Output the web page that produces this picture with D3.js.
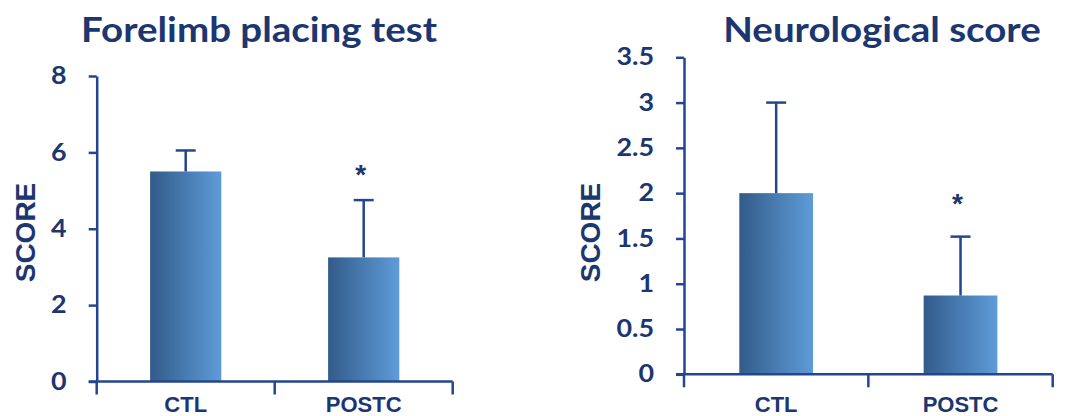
<!DOCTYPE html>
<html>
<head>
<meta charset="utf-8">
<script src="https://cdn.jsdelivr.net/npm/d3@7"></script>
<style>
  html, body { margin: 0; padding: 0; background: #ffffff; }
  svg { display: block; }
</style>
</head>
<body>
<svg id="chart" width="1073" height="416"></svg>
<script>
// Group labels shared by both panels
const categories = ["CTL", "POSTC"];
const significant = [false, true];

// Forelimb placing test: mean score and error (upper bar only)
const forelimbMeans = [5.5, 3.25];
const forelimbErrors = [0.55, 1.5];
const forelimbTicks = [0, 2, 4, 6, 8];

// Neurological score: mean score and error
const neuroMeans = [2.0, 0.87];
const neuroErrors = [1.0, 0.65];
const neuroTicks = [0, 0.5, 1, 1.5, 2, 2.5, 3, 3.5];

const svg = d3.select("#chart");
const textColor = "#1c3670";
const axisColor = "#24458f";
const wideX = 1.12;   // horizontal stretch for the wide display lettering

// Horizontal gradient used to fill the bars
const defs = svg.append("defs");
const grad = defs.append("linearGradient")
  .attr("id", "barFill")
  .attr("x1", "0%").attr("x2", "100%").attr("y1", "0%").attr("y2", "0%");
grad.append("stop").attr("offset", "0%").attr("stop-color", "#325b8a");
grad.append("stop").attr("offset", "100%").attr("stop-color", "#5e9cd8");

function drawPanel(cfg) {
  const g = svg.append("g");
  const x = d3.scaleBand().domain(categories).range([cfg.left, cfg.right]).padding(0);
  const y = d3.scaleLinear().domain([0, cfg.max]).range([cfg.bottom, cfg.top]);
  const barW = x.bandwidth() * 0.4;

  const rows = categories.map((c, i) => ({
    cat: c, mean: cfg.means[i], err: cfg.errors[i], sig: significant[i]
  }));

  // Title
  g.append("text")
    .attr("transform", `translate(${cfg.titleX},41.5) scale(1.1,1)`)
    .attr("text-anchor", "middle")
    .attr("font-family", "Lato, 'Open Sans', sans-serif")
    .attr("font-weight", 700)
    .attr("font-size", 35)
    .attr("fill", textColor)
    .text(cfg.title);

  // Bars
  g.selectAll("rect.bar").data(rows).join("rect")
    .attr("class", "bar")
    .attr("x", d => x(d.cat) + (x.bandwidth() - barW) / 2)
    .attr("width", barW)
    .attr("y", d => y(d.mean))
    .attr("height", d => y(0) - y(d.mean))
    .attr("fill", "url(#barFill)");

  // Error bars (upper whisker with cap)
  const cx = d => x(d.cat) + x.bandwidth() / 2;
  g.selectAll("line.err").data(rows).join("line")
    .attr("class", "err")
    .attr("x1", cx).attr("x2", cx)
    .attr("y1", d => y(d.mean)).attr("y2", d => y(d.mean + d.err))
    .attr("stroke", axisColor).attr("stroke-width", 2.5);
  g.selectAll("line.cap").data(rows).join("line")
    .attr("class", "cap")
    .attr("x1", d => cx(d) - 10).attr("x2", d => cx(d) + 10)
    .attr("y1", d => y(d.mean + d.err)).attr("y2", d => y(d.mean + d.err))
    .attr("stroke", axisColor).attr("stroke-width", 2.5);

  // Significance markers
  g.selectAll("text.sig").data(rows.filter(d => d.sig)).join("text")
    .attr("class", "sig")
    .attr("x", d => cx(d) - 3)
    .attr("y", d => y(d.mean + d.err) - cfg.sigGap)
    .attr("text-anchor", "middle")
    .attr("font-family", "'Liberation Sans', Arial, sans-serif")
    .attr("font-weight", 700)
    .attr("font-size", 28)
    .attr("fill", textColor)
    .text("*");

  // Y axis
  const tickSize = 8, tickPad = 22;
  const yAxis = g.append("g")
    .attr("transform", `translate(${cfg.left},0)`)
    .call(d3.axisLeft(y).tickValues(cfg.ticks).tickSize(tickSize).tickSizeOuter(0)
      .tickFormat(d => String(d)));
  yAxis.select(".domain").attr("stroke", axisColor).attr("stroke-width", 2.5);
  yAxis.selectAll(".tick line").attr("stroke", axisColor).attr("stroke-width", 2.5);
  yAxis.selectAll(".tick text")
    .attr("x", -(tickSize + tickPad) / wideX)
    .attr("transform", `scale(${wideX},1)`)
    .attr("fill", textColor)
    .attr("font-family", "Lato, 'Open Sans', sans-serif")
    .attr("font-weight", 700)
    .attr("font-size", 24);

  // X axis: baseline plus ticks at category boundaries
  g.append("line")
    .attr("x1", cfg.left - 8).attr("x2", cfg.right)
    .attr("y1", y(0)).attr("y2", y(0))
    .attr("stroke", axisColor).attr("stroke-width", 2.5);
  const bounds = categories.map(c => x(c)).concat([cfg.right]);
  g.selectAll("line.xtick").data(bounds).join("line")
    .attr("class", "xtick")
    .attr("x1", d => d).attr("x2", d => d)
    .attr("y1", y(0)).attr("y2", y(0) + 13)
    .attr("stroke", axisColor).attr("stroke-width", 2.5);
  g.selectAll("text.xlab").data(categories).join("text")
    .attr("class", "xlab")
    .attr("x", c => x(c) + x.bandwidth() / 2)
    .attr("y", 412)
    .attr("text-anchor", "middle")
    .attr("font-family", "'Liberation Sans', Arial, sans-serif")
    .attr("font-weight", 700)
    .attr("font-size", 22)
    .attr("fill", textColor)
    .text(c => c);

  // Y axis title
  g.append("text")
    .attr("transform", `translate(${cfg.yTitleX},232.5) rotate(-90)`)
    .attr("text-anchor", "middle")
    .attr("font-family", "'Liberation Sans', Arial, sans-serif")
    .attr("font-weight", 700)
    .attr("font-size", 28)
    .attr("fill", textColor)
    .text("SCORE");
}

drawPanel({
  title: "Forelimb placing test", titleX: 259,
  means: forelimbMeans, errors: forelimbErrors, ticks: forelimbTicks, max: 8,
  left: 96.7, right: 452.7, top: 76, bottom: 381.5,
  sigGap: 16, yTitleX: 35
});

drawPanel({
  title: "Neurological score", titleX: 882,
  means: neuroMeans, errors: neuroErrors, ticks: neuroTicks, max: 3.5,
  left: 684, right: 1052.7, top: 57.3, bottom: 374.3,
  sigGap: 24, yTitleX: 600
});
</script>
</body>
</html>
